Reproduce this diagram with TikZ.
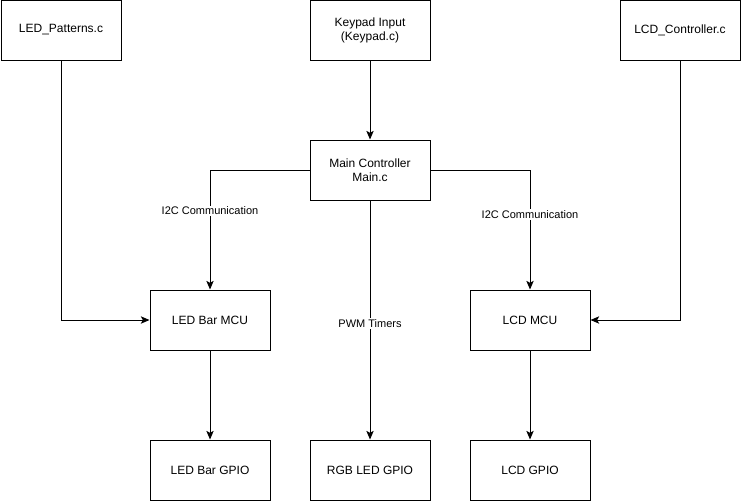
\documentclass[tikz,border=0pt]{standalone}
\usepackage{fontspec}
\setmainfont{Liberation Sans}
\usetikzlibrary{arrows.meta}
\begin{document}
\begin{tikzpicture}[x=0.75pt,y=-0.75pt,
  blk/.style={draw=black,line width=0.75pt,fill=white,minimum width=120*0.75pt,minimum height=60*0.75pt,inner sep=0pt,align=center,font=\fontsize{9}{10.5}\selectfont},
  link/.style={draw=black,line width=0.75pt,-{Stealth[length=6.5pt,width=5.5pt,inset=1.5pt]}},
  tag/.style={fill=white,inner sep=1pt,font=\fontsize{8.25}{9.5}\selectfont}]
  \useasboundingbox (0,0) rectangle (741,501);
  % sources
  \node[blk] (pat) at (61,30) {LED\_Patterns.c};
  \node[blk] (key) at (370,30) {Keypad Input\\(Keypad.c)};
  \node[blk] (lcdc) at (680,30) {LCD\_Controller.c};
  % controller and MCUs
  \node[blk] (main) at (370,170) {Main Controller\\Main.c};
  \node[blk] (ledmcu) at (210,320) {LED Bar MCU};
  \node[blk] (lcdmcu) at (530,320) {LCD MCU};
  % outputs
  \node[blk] (ledgpio) at (210,470) {LED Bar GPIO};
  \node[blk] (rgb) at (370,470) {RGB LED GPIO};
  \node[blk] (lcdgpio) at (530,470) {LCD GPIO};
  % connectors
  \draw[link] (key) -- (main);
  \draw[link] (main.west) -| node[tag,pos=0.671] {I2C Communication} (ledmcu.north);
  \draw[link] (main.east) -| node[tag,pos=0.6875] {I2C Communication} (lcdmcu.north);
  \draw[link] (main) -- node[tag,pos=0.515] {PWM Timers} (rgb);
  \draw[link] (pat.south) |- (ledmcu.west);
  \draw[link] (lcdc.south) |- (lcdmcu.east);
  \draw[link] (ledmcu) -- (ledgpio);
  \draw[link] (lcdmcu) -- (lcdgpio);
\end{tikzpicture}
\end{document}
